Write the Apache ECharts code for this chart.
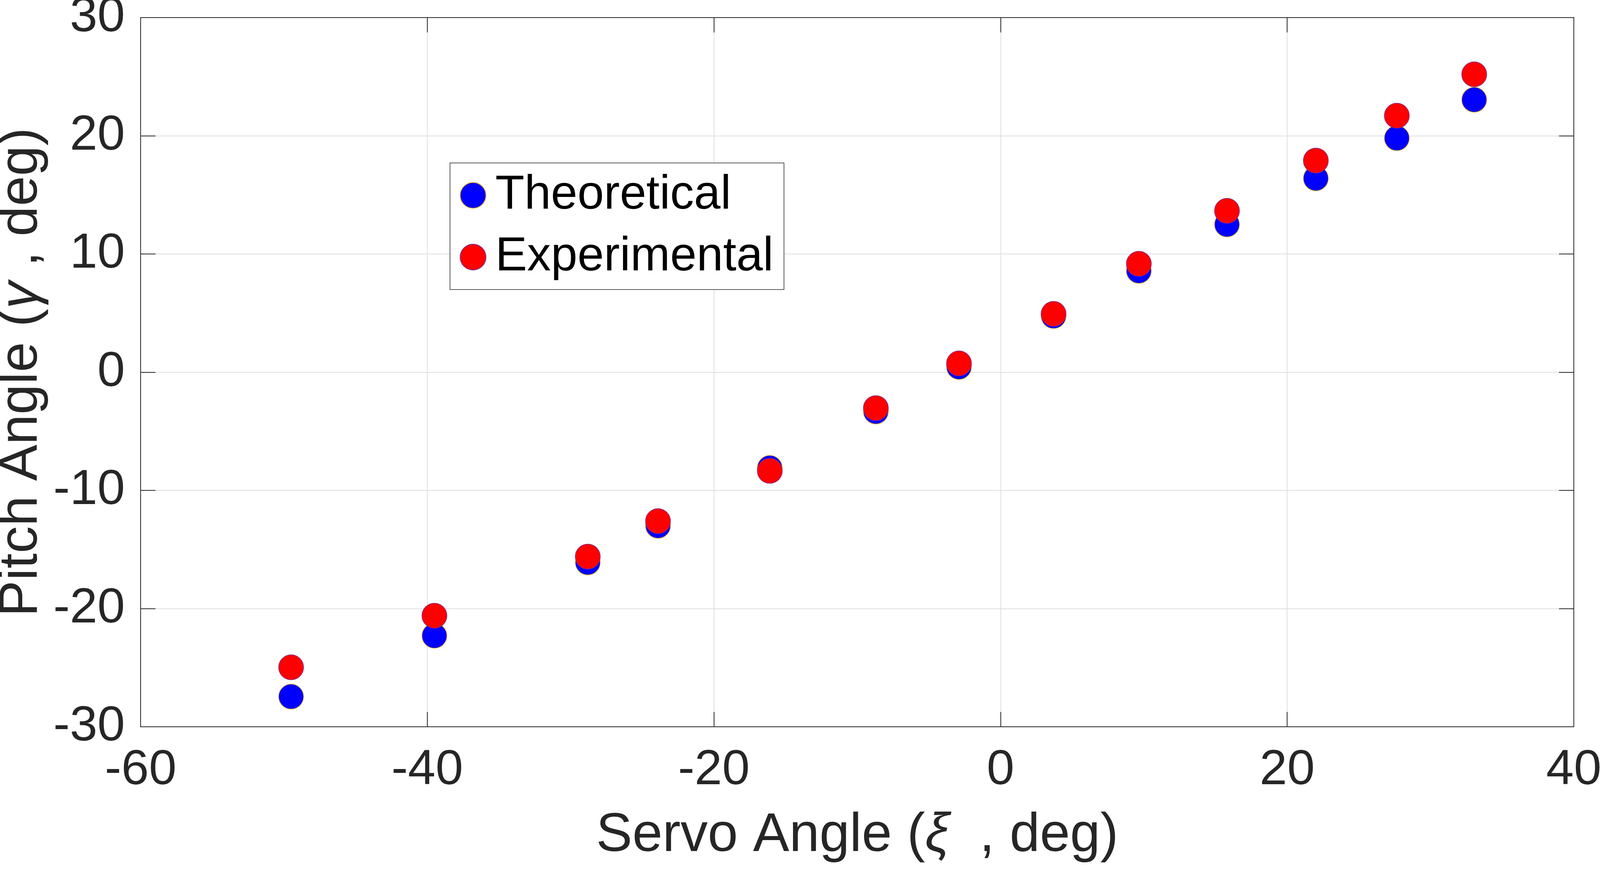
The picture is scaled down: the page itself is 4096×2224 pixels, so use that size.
<!DOCTYPE html>
<html>
<head>
<meta charset="utf-8">
<script src="https://cdn.jsdelivr.net/npm/echarts@6/dist/echarts.min.js"></script>
<style>
html,body{margin:0;padding:0;background:#fff;}
#chart{width:4096px;height:2224px;}
</style>
</head>
<body>
<div id="chart"></div>
<script>
// Data
var servoAngle   = [-49.5, -39.5, -28.8, -23.9, -16.1, -8.7, -2.9, 3.7, 9.65, 15.8, 22.0, 27.65, 33.05];
var theoretical  = [-27.45, -22.3, -16.1, -13.0, -8.1, -3.33, 0.44, 4.75, 8.57, 12.5, 16.4, 19.8, 23.05];
var experimental = [-24.97, -20.6, -15.6, -12.6, -8.35, -3.04, 0.74, 4.93, 9.17, 13.65, 17.9, 21.7, 25.2];
var xTicks = {min: -60, max: 40, interval: 20};
var yTicks = {min: -30, max: 30, interval: 10};
var seriesNames = ['Theoretical', 'Experimental'];

function pairs(xs, ys) { return xs.map(function (x, i) { return [x, ys[i]]; }); }

var FONT = 'Liberation Sans';
var DARK = '#262626';
var tick = {show: true, inside: true, length: 38, lineStyle: {color: DARK, width: 2}};
var line = {show: true, onZero: false, lineStyle: {color: DARK, width: 2}};
var grid = {show: true, lineStyle: {color: '#dfdfdf', width: 2}};

var chart = echarts.init(document.getElementById('chart'), null, {renderer: 'canvas'});
chart.setOption({
  backgroundColor: '#ffffff',
  animation: false,
  grid: {left: 360, right: 67, top: 45, bottom: 364, containLabel: false, outerBoundsMode: 'none'},
  legend: {
    orient: 'vertical',
    left: 1152, top: 417,
    padding: [22, 27, 22, 25],
    itemWidth: 66, itemHeight: 66, itemGap: 36,
    backgroundColor: '#ffffff',
    borderColor: DARK, borderWidth: 1.5, borderRadius: 0,
    textStyle: {fontFamily: FONT, fontSize: 122, color: '#000000', padding: [0, 0, 0, 19]},
    data: [{name: seriesNames[0], icon: 'circle'}, {name: seriesNames[1], icon: 'circle'}]
  },
  xAxis: [{
    type: 'value', position: 'bottom',
    min: xTicks.min, max: xTicks.max, interval: xTicks.interval,
    axisLine: line, axisTick: tick, splitLine: grid,
    axisLabel: {fontFamily: FONT, fontSize: 127, color: DARK, margin: 48},
    name: '{n|Servo Angle (}{g|ξ}{n|  , deg)}',
    nameLocation: 'middle', nameGap: 210,
    nameTextStyle: {rich: {
      n: {fontFamily: FONT, fontSize: 139, color: DARK},
      g: {fontFamily: FONT, fontSize: 139, color: DARK, fontStyle: 'italic'}
    }}
  }, {
    type: 'value', position: 'top',
    min: xTicks.min, max: xTicks.max, interval: xTicks.interval,
    axisLine: line, axisTick: tick, splitLine: {show: false},
    axisLabel: {show: false}
  }],
  yAxis: [{
    type: 'value', position: 'left',
    min: yTicks.min, max: yTicks.max, interval: yTicks.interval,
    axisLine: line, axisTick: tick, splitLine: grid,
    axisLabel: {fontFamily: FONT, fontSize: 127, color: DARK, margin: 40},
    name: '{n|Pitch Angle (}{g|γ}{n| , deg)}',
    nameLocation: 'middle', nameGap: 233, nameRotate: 90,
    nameTextStyle: {rich: {
      n: {fontFamily: FONT, fontSize: 139, color: DARK},
      g: {fontFamily: FONT, fontSize: 139, color: DARK, fontStyle: 'italic'}
    }}
  }, {
    type: 'value', position: 'right',
    min: yTicks.min, max: yTicks.max, interval: yTicks.interval,
    axisLine: line, axisTick: tick, splitLine: {show: false},
    axisLabel: {show: false}
  }],
  series: [{
    name: seriesNames[0], type: 'scatter', xAxisIndex: 0, yAxisIndex: 0,
    symbol: 'circle', symbolSize: 64,
    itemStyle: {color: '#0000ff', borderColor: '#EDB120', borderWidth: 1.5, opacity: 1},
    data: pairs(servoAngle, theoretical), z: 3
  }, {
    name: seriesNames[1], type: 'scatter', xAxisIndex: 0, yAxisIndex: 0,
    symbol: 'circle', symbolSize: 64,
    itemStyle: {color: '#ff0000', borderColor: '#7E2F8E', borderWidth: 1.5, opacity: 1},
    data: pairs(servoAngle, experimental), z: 4
  }]
});
</script>
</body>
</html>
